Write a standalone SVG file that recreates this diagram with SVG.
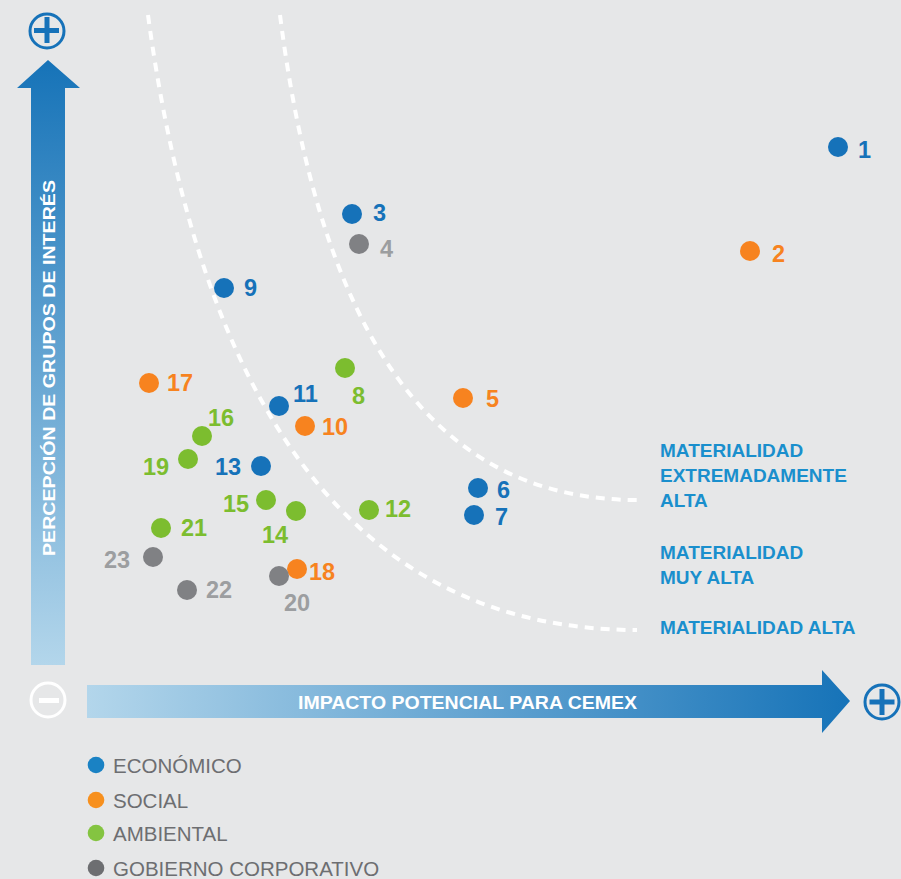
<svg xmlns="http://www.w3.org/2000/svg" width="901" height="879" viewBox="0 0 901 879">
<defs>
<linearGradient id="gv" x1="0" y1="0" x2="0" y2="1">
<stop offset="0" stop-color="#1673b8"/>
<stop offset="1" stop-color="#b3d6eb"/>
</linearGradient>
<linearGradient id="gh" x1="0" y1="0" x2="1" y2="0">
<stop offset="0" stop-color="#b3d6eb"/>
<stop offset="1" stop-color="#1673b8"/>
</linearGradient>
<style>
.lbl{font-family:"Liberation Sans",Arial,sans-serif;font-weight:bold;font-size:23.5px}
.b{fill:#1672b9}.o{fill:#f7831f}.g{fill:#7cbd2f}.k{fill:#808184}.kt{fill:#9c9ea0}
.mat{font-family:"Liberation Sans",Arial,sans-serif;font-weight:bold;font-size:19px;fill:#1a8fcd}
.leg{font-family:"Liberation Sans",Arial,sans-serif;font-size:20.5px;fill:#6d6e71}
.curve{fill:none;stroke:#ffffff;stroke-width:4;stroke-dasharray:9 7}
.axis{font-family:"Liberation Sans",Arial,sans-serif;font-weight:bold;fill:#ffffff}
</style>
</defs>
<rect width="901" height="879" fill="#e6e7e8"/>

<g id="axis-y">
<path d="M31,88 L17,88 L48,60 L80,88 L65,88 L65,665 L31,665 Z" fill="url(#gv)"/>
<text class="axis" font-size="17" transform="translate(55,556) rotate(-90)" textLength="376" lengthAdjust="spacingAndGlyphs">PERCEPCIÓN DE GRUPOS DE INTERÉS</text>
</g>
<g id="axis-x">
<path d="M87,685 L822,685 L822,670 L850,701 L822,733 L822,718 L87,718 Z" fill="url(#gh)"/>
<text class="axis" font-size="18" x="298" y="709" textLength="339" lengthAdjust="spacingAndGlyphs">IMPACTO POTENCIAL PARA CEMEX</text>
</g>
<g id="plus-top">
<circle cx="47" cy="31" r="17" fill="none" stroke="#1672b9" stroke-width="3"/>
<rect x="34" y="28" width="25" height="5" fill="#1672b9"/>
<rect x="44.5" y="17" width="5" height="26" fill="#1672b9"/>
</g>
<g id="minus">
<circle cx="48" cy="700" r="17" fill="none" stroke="#ffffff" stroke-width="3"/>
<rect x="39" y="698" width="20" height="5" fill="#ffffff"/>
</g>
<g id="plus-right">
<circle cx="882" cy="702" r="17" fill="none" stroke="#1672b9" stroke-width="3"/>
<rect x="869.5" y="699.5" width="25" height="5" fill="#1672b9"/>
<rect x="879.5" y="689" width="5" height="26" fill="#1672b9"/>
</g>

<g id="curves">
<path class="curve" d="M148,15 C200,400 350,630 637,630"/>
<path class="curve" d="M280,15 C320,330 430,500 637,500"/>
</g>

<g id="materialidad">
<text class="mat" x="660" y="457">MATERIALIDAD</text>
<text class="mat" x="660" y="482">EXTREMADAMENTE</text>
<text class="mat" x="660" y="507">ALTA</text>
<text class="mat" x="660" y="559">MATERIALIDAD</text>
<text class="mat" x="660" y="584">MUY ALTA</text>
<text class="mat" x="660" y="634">MATERIALIDAD ALTA</text>
</g>

<g id="p1"><circle class="b" cx="838" cy="147" r="10"/><text class="lbl b" x="858" y="158">1</text></g>
<g id="p2"><circle class="o" cx="750" cy="251" r="10"/><text class="lbl o" x="772" y="262">2</text></g>
<g id="p3"><circle class="b" cx="352" cy="214" r="10"/><text class="lbl b" x="373" y="221">3</text></g>
<g id="p4"><circle class="k" cx="359" cy="244" r="10"/><text class="lbl kt" x="380" y="257">4</text></g>
<g id="p5"><circle class="o" cx="463" cy="398" r="10"/><text class="lbl o" x="486" y="407">5</text></g>
<g id="p6"><circle class="b" cx="478" cy="488" r="10"/><text class="lbl b" x="497" y="498">6</text></g>
<g id="p7"><circle class="b" cx="474" cy="515" r="10"/><text class="lbl b" x="495" y="525">7</text></g>
<g id="p8"><circle class="g" cx="345" cy="368" r="10"/><text class="lbl g" x="352" y="404">8</text></g>
<g id="p9"><circle class="b" cx="224" cy="288" r="10"/><text class="lbl b" x="244" y="296">9</text></g>
<g id="p10"><circle class="o" cx="305" cy="426" r="10"/><text class="lbl o" x="322" y="435">10</text></g>
<g id="p11"><circle class="b" cx="279" cy="406" r="10"/><text class="lbl b" x="293" y="402">11</text></g>
<g id="p12"><circle class="g" cx="369" cy="510" r="10"/><text class="lbl g" x="385" y="517">12</text></g>
<g id="p13"><circle class="b" cx="261" cy="466" r="10"/><text class="lbl b" x="215" y="475">13</text></g>
<g id="p14"><circle class="g" cx="296" cy="511" r="10"/><text class="lbl g" x="262" y="543">14</text></g>
<g id="p15"><circle class="g" cx="266" cy="500" r="10"/><text class="lbl g" x="223" y="512">15</text></g>
<g id="p16"><circle class="g" cx="202" cy="436" r="10"/><text class="lbl g" x="208" y="426">16</text></g>
<g id="p17"><circle class="o" cx="149" cy="383" r="10"/><text class="lbl o" x="167" y="391">17</text></g>
<g id="p18"><circle class="o" cx="297" cy="569" r="10"/><text class="lbl o" x="309" y="580">18</text></g>
<g id="p19"><circle class="g" cx="188" cy="459" r="10"/><text class="lbl g" x="143" y="475">19</text></g>
<g id="p20"><circle class="k" cx="279" cy="576" r="10"/><text class="lbl kt" x="284" y="611">20</text></g>
<g id="p21"><circle class="g" cx="161" cy="528" r="10"/><text class="lbl g" x="181" y="536">21</text></g>
<g id="p22"><circle class="k" cx="187" cy="590" r="10"/><text class="lbl kt" x="206" y="598">22</text></g>
<g id="p23"><circle class="k" cx="153" cy="557" r="10"/><text class="lbl kt" x="104" y="568">23</text></g>

<g id="legend">
<circle cx="96" cy="765" r="8.3" fill="#1a82c4"/><text class="leg" x="113" y="773">ECONÓMICO</text>
<circle cx="96" cy="800" r="8.3" fill="#f7901e"/><text class="leg" x="113" y="808">SOCIAL</text>
<circle cx="96" cy="833" r="8.3" fill="#84c441"/><text class="leg" x="113" y="841">AMBIENTAL</text>
<circle cx="96" cy="868" r="8.3" fill="#6d6e71"/><text class="leg" x="113" y="876">GOBIERNO CORPORATIVO</text>
</g>
</svg>
